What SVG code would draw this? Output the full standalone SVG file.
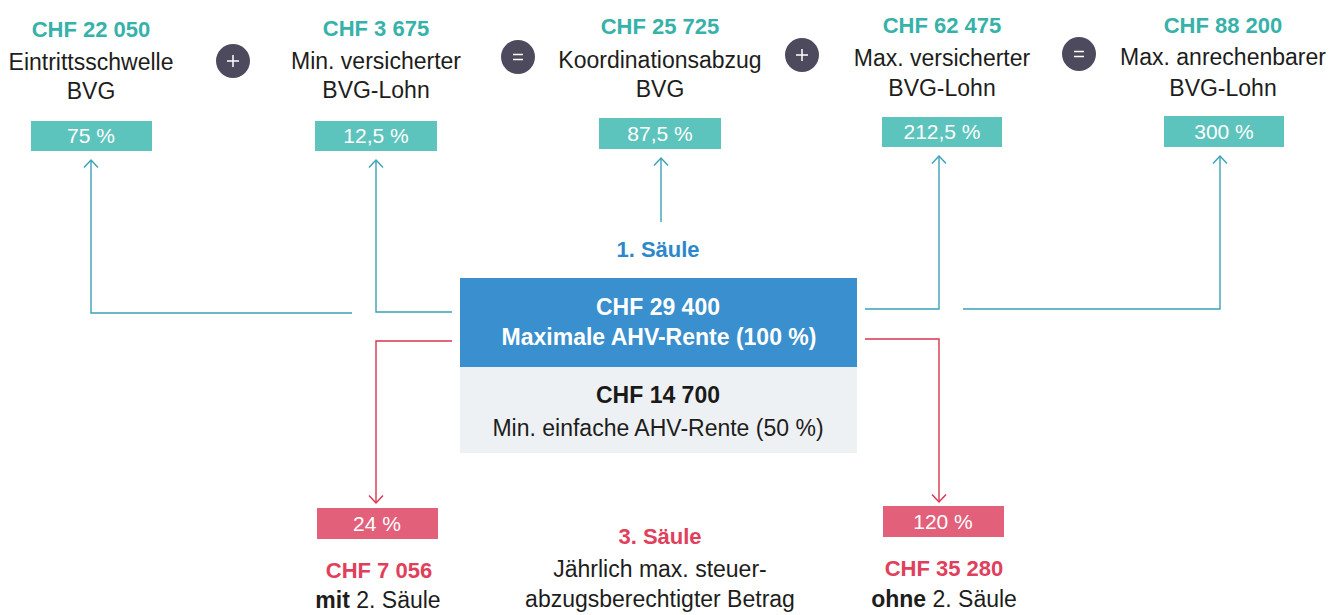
<svg xmlns="http://www.w3.org/2000/svg" width="1338" height="615" viewBox="0 0 1338 615">
<defs>
<style>
text{font-family:"Liberation Sans",Arial,sans-serif;text-anchor:middle}
.b{font-weight:bold;font-size:22px}
.r{font-size:23px;fill:#1d1d1b}
.tealT{fill:#36b2aa}
.redT{fill:#e0405c}
.pct{font-size:21px;fill:#ffffff}
.tbox{fill:#5cc4bd}
.rbox{fill:#e2607a}
.op{fill:#4e4a5e}
.opS{stroke:#ffffff;stroke-width:1.5;fill:none}
.ct{fill:none;stroke:#3aa2b6;stroke-width:1.4}
.cr{fill:none;stroke:#d9344f;stroke-width:1.4}
</style>
<marker id="aT" viewBox="-9 -9 18 18" refX="0" refY="0" markerWidth="18" markerHeight="18" markerUnits="userSpaceOnUse" orient="auto">
<path d="M-7.5,-7 L0,0 L-7.5,7" fill="none" stroke="#3aa2b6" stroke-width="1.4"/>
</marker>
<marker id="aR" viewBox="-9 -9 18 18" refX="0" refY="0" markerWidth="18" markerHeight="18" markerUnits="userSpaceOnUse" orient="auto">
<path d="M-7.5,-7 L0,0 L-7.5,7" fill="none" stroke="#d9344f" stroke-width="1.4"/>
</marker>
</defs>
<rect width="1338" height="615" fill="#ffffff"/>

<g id="connectors">
<polyline class="ct" points="352,313 91,313 91,160" marker-end="url(#aT)"/>
<polyline class="ct" points="452,312 376,312 376,160" marker-end="url(#aT)"/>
<polyline class="ct" points="661,222 661,158" marker-end="url(#aT)"/>
<polyline class="ct" points="865,309 939,309 939,156" marker-end="url(#aT)"/>
<polyline class="ct" points="963,309 1220,309 1220,156" marker-end="url(#aT)"/>
<polyline class="cr" points="452,341 376,341 376,503" marker-end="url(#aR)"/>
<polyline class="cr" points="865,339 939,339 939,502" marker-end="url(#aR)"/>
</g>

<g id="node-eintrittsschwelle">
<text class="b tealT" x="91" y="37">CHF 22 050</text>
<text class="r" x="91" y="70">Eintrittsschwelle</text>
<text class="r" x="91" y="99">BVG</text>
<rect class="tbox" x="31" y="121" width="121" height="30"/>
<text class="pct" x="91" y="143">75 %</text>
</g>

<g id="op-plus-1">
<circle class="op" cx="233" cy="61" r="17"/>
<path class="opS" d="M227,61 H239 M233,55 V67"/>
</g>

<g id="node-min-versichert">
<text class="b tealT" x="376" y="36">CHF 3 675</text>
<text class="r" x="376" y="69">Min. versicherter</text>
<text class="r" x="376" y="98">BVG-Lohn</text>
<rect class="tbox" x="315" y="121" width="122" height="30"/>
<text class="pct" x="376" y="143">12,5 %</text>
</g>

<g id="op-equals-1">
<circle class="op" cx="518" cy="57" r="17"/>
<path class="opS" d="M513,54.5 H523 M513,59.5 H523"/>
</g>

<g id="node-koordinationsabzug">
<text class="b tealT" x="660" y="34">CHF 25 725</text>
<text class="r" x="660" y="68">Koordinationsabzug</text>
<text class="r" x="660" y="97">BVG</text>
<rect class="tbox" x="599" y="118" width="122" height="31"/>
<text class="pct" x="660" y="141">87,5 %</text>
</g>

<g id="op-plus-2">
<circle class="op" cx="802" cy="55" r="17"/>
<path class="opS" d="M796,55 H808 M802,49 V61"/>
</g>

<g id="node-max-versichert">
<text class="b tealT" x="942" y="33">CHF 62 475</text>
<text class="r" x="942" y="66">Max. versicherter</text>
<text class="r" x="942" y="96">BVG-Lohn</text>
<rect class="tbox" x="882" y="117" width="120" height="30"/>
<text class="pct" x="942" y="139">212,5 %</text>
</g>

<g id="op-equals-2">
<circle class="op" cx="1079" cy="54" r="17"/>
<path class="opS" d="M1074,51.5 H1084 M1074,56.5 H1084"/>
</g>

<g id="node-max-anrechenbar">
<text class="b tealT" x="1223" y="33">CHF 88 200</text>
<text class="r" x="1223" y="65">Max. anrechenbarer</text>
<text class="r" x="1223" y="96">BVG-Lohn</text>
<rect class="tbox" x="1164" y="116" width="120" height="31"/>
<text class="pct" x="1224" y="139">300 %</text>
</g>

<g id="node-ahv">
<text class="b" x="658" y="257" fill="#2d88cb">1. Säule</text>
<rect x="460" y="278" width="397" height="89" fill="#3a8fce"/>
<rect x="460" y="367" width="397" height="86" fill="#eef1f4"/>
<text class="b" x="658" y="315" fill="#ffffff" style="font-size:23px">CHF 29 400</text>
<text class="b" x="659" y="345" fill="#ffffff" style="font-size:23px">Maximale AHV-Rente (100 %)</text>
<text class="b" x="658" y="403" fill="#1a1a1a" style="font-size:23px">CHF 14 700</text>
<text class="r" x="658" y="436">Min. einfache AHV-Rente (50 %)</text>
</g>

<g id="node-mit-2-saeule">
<rect class="rbox" x="317" y="508" width="121" height="31"/>
<text class="pct" x="377" y="531">24 %</text>
<text class="b redT" x="379" y="578">CHF 7 056</text>
<text class="r" x="378" y="608"><tspan font-weight="bold">mit</tspan> 2. Säule</text>
</g>

<g id="node-3-saeule">
<text class="b redT" x="660" y="544">3. Säule</text>
<text class="r" x="660" y="577">Jährlich max. steuer-</text>
<text class="r" x="660" y="607">abzugsberechtigter Betrag</text>
</g>

<g id="node-ohne-2-saeule">
<rect class="rbox" x="883" y="506" width="121" height="31"/>
<text class="pct" x="943" y="529">120 %</text>
<text class="b redT" x="944" y="576">CHF 35 280</text>
<text class="r" x="944" y="607"><tspan font-weight="bold">ohne</tspan> 2. Säule</text>
</g>
</svg>
